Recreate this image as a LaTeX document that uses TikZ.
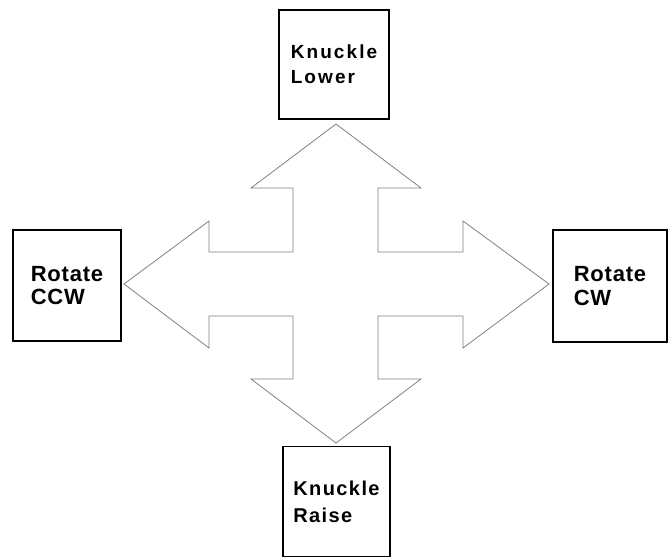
\documentclass[tikz,border=0pt]{standalone}
\usepackage{fontspec}
\setmainfont{Liberation Sans}
\begin{document}
\begin{tikzpicture}[x=1pt,y=-1pt,
  ctrlbox/.style={draw, line width=1.8pt, inner sep=0pt, align=left},
  arrowline/.style={draw=black!50, line width=0.8pt, line join=miter}]
\useasboundingbox (0,0) rectangle (668,558);
% control boxes
\node[ctrlbox, minimum width=110pt, minimum height=109pt,
  font=\fontsize{19}{25}\selectfont\bfseries\addfontfeature{LetterSpace=11}]
  (lower) at (334,64.5) {Knuckle\\Lower};
\node[ctrlbox, minimum width=108pt, minimum height=111pt,
  font=\fontsize{22}{23}\selectfont\bfseries\addfontfeature{LetterSpace=3.5}]
  (ccw) at (67,285.5) {Rotate\\CCW};
\node[ctrlbox, minimum width=114pt, minimum height=112pt,
  font=\fontsize{22}{24}\selectfont\bfseries\addfontfeature{LetterSpace=3.5}]
  (cw) at (610,286) {Rotate\\CW};
\node[ctrlbox, minimum width=107pt, minimum height=110pt,
  font=\fontsize{20}{27}\selectfont\bfseries\addfontfeature{LetterSpace=7}]
  (raise) at (336.5,501.5) {Knuckle\\Raise};

% four way arrow
\def\cx{336}
\def\cy{284}
\path[arrowline] (\cx,124) -- (421,188) -- (378,188) -- (378,252)
  -- (463,252) -- (463,221) -- (549,\cy) -- (463,348) -- (463,316)
  -- (378,316) -- (378,379) -- (421,379) -- (\cx,443) -- (251,379)
  -- (293,379) -- (293,316) -- (209,316) -- (209,348) -- (124,\cy)
  -- (209,221) -- (209,252) -- (293,252) -- (293,188) -- (251,188) -- cycle;
\end{tikzpicture}
\end{document}
